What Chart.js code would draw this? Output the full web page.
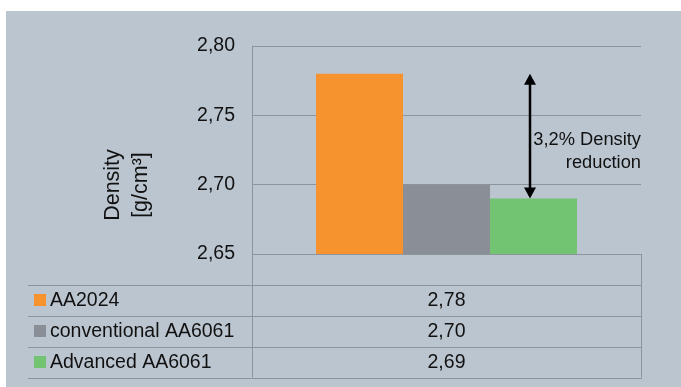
<!DOCTYPE html>
<html>
<head>
<meta charset="utf-8">
<script src="https://cdn.jsdelivr.net/npm/chart.js@4/dist/chart.umd.min.js"></script>
<style>
  html, body { margin: 0; padding: 0; background: #ffffff; }
  #wrap { position: absolute; left: 0; top: 0; width: 681px; height: 387px; }
  canvas { display: block; }
</style>
</head>
<body>
<div id="wrap"><canvas id="c" width="681" height="387"></canvas></div>
<script>
// ---- data ----
const categories = [''];
const seriesNames = ['AA2024', 'conventional AA6061', 'Advanced AA6061'];
const seriesValues = [2.78, 2.70, 2.69];
const seriesColors = ['#f7932f', '#8a8f97', '#72c472'];
const yTitleLines = ['Density', '[g/cm³]'];
const annotationLines = ['3,2% Density', 'reduction'];
const yMin = 2.65, yMax = 2.80, yStep = 0.05;

const FONT = '"Liberation Sans", Arial, Helvetica, sans-serif';
const FSIZE = 19.5;
const GRID = '#8d949c';
const PANEL = '#bbc5d0';
const fmt = v => v.toFixed(2).replace('.', ',');

const panelPlugin = {
  id: 'panel',
  beforeDraw(chart) {
    const ctx = chart.ctx;
    ctx.save();
    ctx.fillStyle = PANEL;
    ctx.fillRect(6, 11, chart.width - 6, chart.height - 11);
    ctx.restore();
  }
};

const extrasPlugin = {
  id: 'extras',
  afterDraw(chart) {
    const ctx = chart.ctx;
    const a = chart.chartArea;
    const y = chart.scales.y;
    ctx.save();
    // y title (two rotated lines)
    ctx.fillStyle = '#111';
    ctx.font = '21.5px ' + FONT;
    ctx.textAlign = 'center';
    ctx.textBaseline = 'middle';
    const tx = [113, 141];
    yTitleLines.forEach((t, i) => {
      ctx.save();
      ctx.translate(tx[i], 185);
      ctx.rotate(-Math.PI / 2);
      ctx.fillText(t, 0, 0);
      ctx.restore();
    });

    // table
    const left = 28, right = a.right, div = a.left;
    const top = a.bottom + 30.5, rowH = 31;
    ctx.strokeStyle = GRID;
    ctx.lineWidth = 1;
    ctx.beginPath();
    ctx.moveTo(div + 0.5, a.bottom); ctx.lineTo(div + 0.5, top + rowH * 3);
    ctx.moveTo(right + 0.5, a.bottom); ctx.lineTo(right + 0.5, top + rowH * 3);
    for (let i = 0; i <= 3; i++) {
      const yy = Math.round(top + rowH * i) + 0.5;
      ctx.moveTo(left, yy); ctx.lineTo(right + 1, yy);
    }
    ctx.stroke();

    ctx.font = FSIZE + 'px ' + FONT;
    const cx = chart.scales.x.getPixelForValue(0);
    seriesNames.forEach((name, i) => {
      const cy = top + rowH * i + rowH / 2;
      ctx.fillStyle = seriesColors[i];
      ctx.fillRect(34, Math.round(cy - 6), 12, 12);
      ctx.fillStyle = '#111';
      ctx.textAlign = 'left';
      ctx.fillText(name, 50, cy + 1);
      ctx.textAlign = 'center';
      ctx.fillText(fmt(seriesValues[i]), cx, cy + 1);
    });

    // arrow between AA2024 and Advanced AA6061
    const gBar = chart.getDatasetMeta(2).data[0];
    const ax = Math.round(gBar.x) - 4;
    const yTop = y.getPixelForValue(seriesValues[0]);
    const yBot = y.getPixelForValue(seriesValues[2]);
    const hw = 6, hh = 11;
    ctx.strokeStyle = '#000';
    ctx.fillStyle = '#000';
    ctx.lineWidth = 2.5;
    ctx.beginPath();
    ctx.moveTo(ax, yTop + hh - 1); ctx.lineTo(ax, yBot - hh + 1);
    ctx.stroke();
    ctx.beginPath();
    ctx.moveTo(ax, yTop); ctx.lineTo(ax - hw, yTop + hh); ctx.lineTo(ax + hw, yTop + hh); ctx.closePath();
    ctx.fill();
    ctx.beginPath();
    ctx.moveTo(ax, yBot); ctx.lineTo(ax - hw, yBot - hh); ctx.lineTo(ax + hw, yBot - hh); ctx.closePath();
    ctx.fill();

    // annotation
    const mid = (yTop + yBot) / 2;
    ctx.font = '18.3px ' + FONT;
    ctx.fillStyle = '#111';
    ctx.textAlign = 'right';
    ctx.fillText(annotationLines[0], a.right, mid + 4);
    ctx.fillText(annotationLines[1], a.right, mid + 27);
    ctx.restore();
  }
};

new Chart(document.getElementById('c'), {
  type: 'bar',
  data: {
    labels: categories,
    datasets: seriesNames.map((n, i) => ({
      label: n,
      data: [seriesValues[i]],
      backgroundColor: seriesColors[i],
      borderWidth: 0,
      categoryPercentage: 0.671,
      barPercentage: 1.0
    }))
  },
  options: {
    responsive: false,
    animation: false,
    layout: { padding: { left: 0, top: 46, right: 40, bottom: 133 } },
    plugins: { legend: { display: false }, tooltip: { enabled: false } },
    scales: {
      x: { display: false },
      y: {
        min: yMin, max: yMax,
        afterFit(scale) { scale.width = 252; },
        grid: { color: GRID, lineWidth: 1, drawTicks: false },
        border: { display: true, color: GRID, width: 1 },
        ticks: {
          stepSize: yStep,
          padding: 17,
          color: '#111',
          font: { family: FONT, size: FSIZE },
          callback: v => fmt(v)
        }
      }
    }
  },
  plugins: [panelPlugin, extrasPlugin]
});
</script>
</body>
</html>
